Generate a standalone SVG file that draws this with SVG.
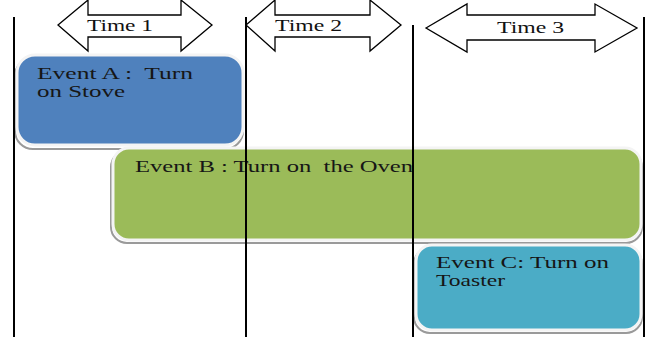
<svg xmlns="http://www.w3.org/2000/svg" width="649" height="337" viewBox="0 0 649 337">
<style>
.bg{fill:#ffffff}
.arrow{fill:#ffffff;stroke:#000;stroke-width:1.3;stroke-linejoin:miter}
.lbl{font-family:"Liberation Serif","Times New Roman",serif;font-size:16px;fill:#111;white-space:pre}
.evt{font-family:"Liberation Serif","Times New Roman",serif;font-size:17px;fill:#161616;white-space:pre}
.shadow{fill:none;stroke:#9a9a9a;stroke-width:2}
.box{stroke:#f4f4f4;stroke-width:3}
.tl{stroke:#000;stroke-width:2}
</style>
<rect class="bg" x="0" y="0" width="649" height="337"/>
<g id="time-arrows">
  <g id="time1">
    <polygon class="arrow" points="58,25 88,0 88,15 181,15 181,0 212,25 181,51 181,37 88,37 88,51"/>
    <text class="lbl" x="87" y="31" textLength="66" lengthAdjust="spacingAndGlyphs">Time 1</text>
  </g>
  <g id="time2">
    <polygon class="arrow" points="246,25 275,0 275,15 370,15 370,0 401,25 370,51 370,37 275,37 275,51"/>
    <text class="lbl" x="275" y="31" textLength="67" lengthAdjust="spacingAndGlyphs">Time 2</text>
  </g>
  <g id="time3">
    <polygon class="arrow" points="426,28 467,4 467,15 595,15 595,4 637,28 595,52 595,40 467,40 467,52"/>
    <text class="lbl" x="497" y="33" textLength="67" lengthAdjust="spacingAndGlyphs">Time 3</text>
  </g>
</g>
<g id="eventA">
  <rect class="shadow" x="15" y="58" width="228" height="91" rx="18"/>
  <rect class="box" x="17" y="55" width="226" height="90" rx="18" fill="#4f81bd"/>
  <text class="evt" x="37" y="79" textLength="156" lengthAdjust="spacingAndGlyphs" xml:space="preserve">Event A :  Turn</text>
  <text class="evt" x="37" y="97" textLength="88" lengthAdjust="spacingAndGlyphs">on Stove</text>
</g>
<g id="eventB">
  <rect class="shadow" x="111" y="151" width="531" height="92" rx="16"/>
  <rect class="box" x="113" y="148" width="528" height="92" rx="16" fill="#9bbb59"/>
  <text class="evt" x="135" y="172" textLength="278" lengthAdjust="spacingAndGlyphs" xml:space="preserve">Event B : Turn on  the Oven</text>
</g>
<g id="eventC">
  <rect class="shadow" x="414" y="248" width="228" height="85" rx="16"/>
  <rect class="box" x="416" y="245" width="225" height="85" rx="16" fill="#4bacc6"/>
  <text class="evt" x="436" y="268" textLength="173" lengthAdjust="spacingAndGlyphs">Event C: Turn on</text>
  <text class="evt" x="436" y="286" textLength="69" lengthAdjust="spacingAndGlyphs">Toaster</text>
</g>
<g id="connectors">
  <line class="tl" x1="14" y1="17" x2="14" y2="337"/>
  <line class="tl" x1="246" y1="17" x2="246" y2="337"/>
  <line class="tl" x1="413" y1="25" x2="413" y2="337"/>
  <line class="tl" x1="644" y1="17" x2="644" y2="337"/>
</g>
</svg>
